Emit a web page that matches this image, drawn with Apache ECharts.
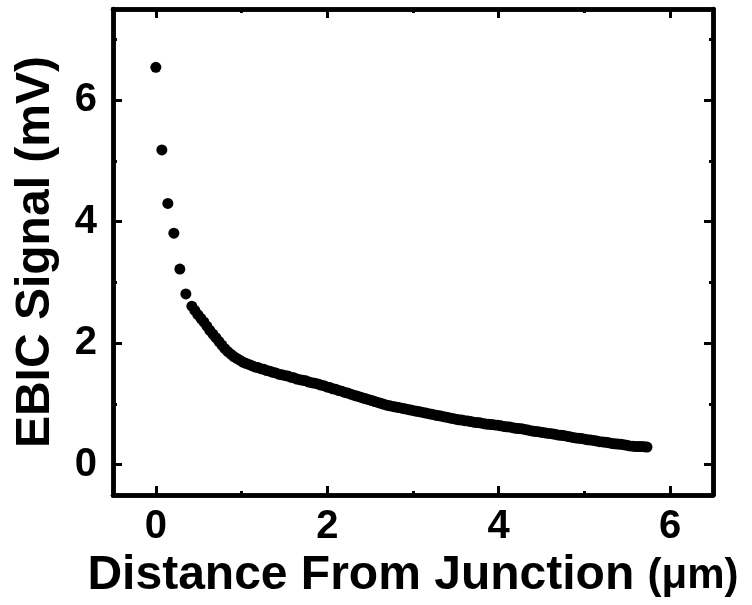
<!DOCTYPE html>
<html>
<head>
    <meta charset="utf-8" />
    <title>EBIC Signal</title>
    <script src="https://cdn.jsdelivr.net/npm/echarts@6/dist/echarts.min.js"></script>
    <style>
        html, body { margin: 0; padding: 0; background: #fff; }
        #main { width: 752px; height: 605px; }
    </style>
</head>
<body>
<div id="main"></div>
<script type="text/javascript">
    // distance from junction (um)
    var distance = [0.00, 0.07, 0.14, 0.21, 0.28, 0.35,
        0.420, 0.455, 0.490, 0.525, 0.560, 0.595, 0.630, 0.665, 0.700, 0.735, 0.770, 0.805, 0.840, 0.875,
        0.910, 0.945, 0.980, 1.015, 1.050, 1.085, 1.120, 1.155, 1.190, 1.225, 1.260, 1.295, 1.330, 1.365,
        1.400, 1.435, 1.470, 1.505, 1.540, 1.575, 1.610, 1.645, 1.680, 1.715, 1.750, 1.785, 1.820, 1.855,
        1.890, 1.925, 1.960, 1.995, 2.030, 2.065, 2.100, 2.135, 2.170, 2.205, 2.240, 2.275, 2.310, 2.345,
        2.380, 2.415, 2.450, 2.485, 2.520, 2.555, 2.590, 2.625, 2.660, 2.695, 2.730, 2.765, 2.800, 2.835,
        2.870, 2.905, 2.940, 2.975, 3.010, 3.045, 3.080, 3.115, 3.150, 3.185, 3.220, 3.255, 3.290, 3.325,
        3.360, 3.395, 3.430, 3.465, 3.500, 3.535, 3.570, 3.605, 3.640, 3.675, 3.710, 3.745, 3.780, 3.815,
        3.850, 3.885, 3.920, 3.955, 3.990, 4.025, 4.060, 4.095, 4.130, 4.165, 4.200, 4.235, 4.270, 4.305,
        4.340, 4.375, 4.410, 4.445, 4.480, 4.515, 4.550, 4.585, 4.620, 4.655, 4.690, 4.725, 4.760, 4.795,
        4.830, 4.865, 4.900, 4.935, 4.970, 5.005, 5.040, 5.075, 5.110, 5.145, 5.180, 5.215, 5.250, 5.285,
        5.320, 5.355, 5.390, 5.425, 5.460, 5.495, 5.530, 5.565, 5.600, 5.635, 5.670, 5.700, 5.730];
    // EBIC signal (mV)
    var signal = [6.54, 5.18, 4.30, 3.81, 3.22, 2.81,
        2.61, 2.54, 2.47, 2.41, 2.35, 2.28, 2.21, 2.15, 2.09, 2.03, 1.97, 1.91, 1.86, 1.82,
        1.78, 1.75, 1.72, 1.69, 1.67, 1.65, 1.63, 1.61, 1.60, 1.58, 1.57, 1.55, 1.54, 1.52,
        1.51, 1.49, 1.48, 1.47, 1.46, 1.44, 1.43, 1.41, 1.40, 1.39, 1.38, 1.36, 1.35, 1.34,
        1.33, 1.31, 1.30, 1.28, 1.27, 1.25, 1.24, 1.22, 1.21, 1.19, 1.18, 1.16, 1.145, 1.13,
        1.115, 1.10, 1.085, 1.07, 1.055, 1.04, 1.025, 1.01, 0.995, 0.98, 0.97, 0.96, 0.95, 0.94,
        0.93, 0.92, 0.91, 0.90, 0.89, 0.88, 0.87, 0.86, 0.85, 0.84, 0.83, 0.82, 0.81, 0.80,
        0.79, 0.78, 0.77, 0.76, 0.75, 0.74, 0.735, 0.725, 0.72, 0.71, 0.70, 0.695, 0.69, 0.68,
        0.67, 0.665, 0.66, 0.655, 0.65, 0.64, 0.63, 0.625, 0.62, 0.61, 0.60, 0.595, 0.59, 0.58,
        0.57, 0.56, 0.55, 0.545, 0.54, 0.53, 0.52, 0.515, 0.51, 0.50, 0.49, 0.485, 0.48, 0.47,
        0.46, 0.45, 0.44, 0.435, 0.43, 0.42, 0.41, 0.405, 0.40, 0.39, 0.38, 0.375, 0.37, 0.36,
        0.35, 0.345, 0.34, 0.335, 0.33, 0.32, 0.31, 0.305, 0.30, 0.30, 0.30, 0.295, 0.29];

    var xMajor = [0, 2, 4, 6];
    var xMinor = [1, 3, 5];
    var yMajor = [0, 2, 4, 6];
    var yMinor = [1, 3, 5, 7];

    var points = [];
    for (var i = 0; i < distance.length; i++) {
        points.push([distance[i], signal[i]]);
    }

    var font = '"Liberation Sans", Arial, sans-serif';
    var lineStyle = { color: '#000', width: 4.5 };

    // one axis per tick set (major / minor) and per side
    function xAx(pos, ticks, len, labels) {
        return {
            type: 'value', position: pos, min: -0.5, max: 6.5,
            splitLine: { show: false },
            axisLine: { show: true, onZero: false, lineStyle: lineStyle },
            axisTick: { show: true, inside: true, length: len, customValues: ticks,
                lineStyle: { color: '#000', width: 3 } },
            axisLabel: labels ? {
                show: true, customValues: ticks, margin: 12,
                color: '#000', fontSize: 40, fontWeight: 'bold', fontFamily: font
            } : { show: false }
        };
    }
    function yAx(pos, ticks, len, labels) {
        return {
            type: 'value', position: pos, min: -0.5, max: 7.5,
            splitLine: { show: false },
            axisLine: { show: true, onZero: false, lineStyle: lineStyle },
            axisTick: { show: true, inside: true, length: len, customValues: ticks,
                lineStyle: { color: '#000', width: 3 } },
            axisLabel: labels ? {
                show: true, customValues: ticks, margin: 16,
                color: '#000', fontSize: 40, fontWeight: 'bold', fontFamily: font
            } : { show: false }
        };
    }

    var xAxes = [xAx('bottom', xMajor, 9, true), xAx('bottom', xMinor, 4, false),
        xAx('top', xMajor, 9, false), xAx('top', xMinor, 4, false)];
    xAxes[0].name = '{m|Distance From Junction }{u|(\u03bcm)}';
    xAxes[0].nameLocation = 'middle';
    xAxes[0].nameGap = 46;
    xAxes[0].nameTextStyle = {
        rich: {
            m: { fontSize: 48, fontWeight: 'bold', color: '#000', fontFamily: font },
            u: { fontSize: 42, fontWeight: 'bold', color: '#000', fontFamily: font }
        }
    };

    var yAxes = [yAx('left', yMajor, 9, true), yAx('left', yMinor, 4, false),
        yAx('right', yMajor, 9, false), yAx('right', yMinor, 4, false)];
    yAxes[0].name = 'EBIC Signal (mV)';
    yAxes[0].nameLocation = 'middle';
    yAxes[0].nameGap = 53;
    yAxes[0].nameTextStyle = { fontSize: 48, fontWeight: 'bold', color: '#000', fontFamily: font };

    var option = {
        backgroundColor: '#fff',
        animation: false,
        grid: { left: 113, right: 39, top: 9, bottom: 107, containLabel: false },
        xAxis: xAxes,
        yAxis: yAxes,
        series: [{
            type: 'scatter',
            xAxisIndex: 0,
            yAxisIndex: 0,
            symbol: 'circle',
            symbolSize: 11,
            itemStyle: { color: '#000', opacity: 1 },
            data: points
        }]
    };

    var myChart = echarts.init(document.getElementById('main'));
    myChart.setOption(option);
</script>
</body>
</html>
